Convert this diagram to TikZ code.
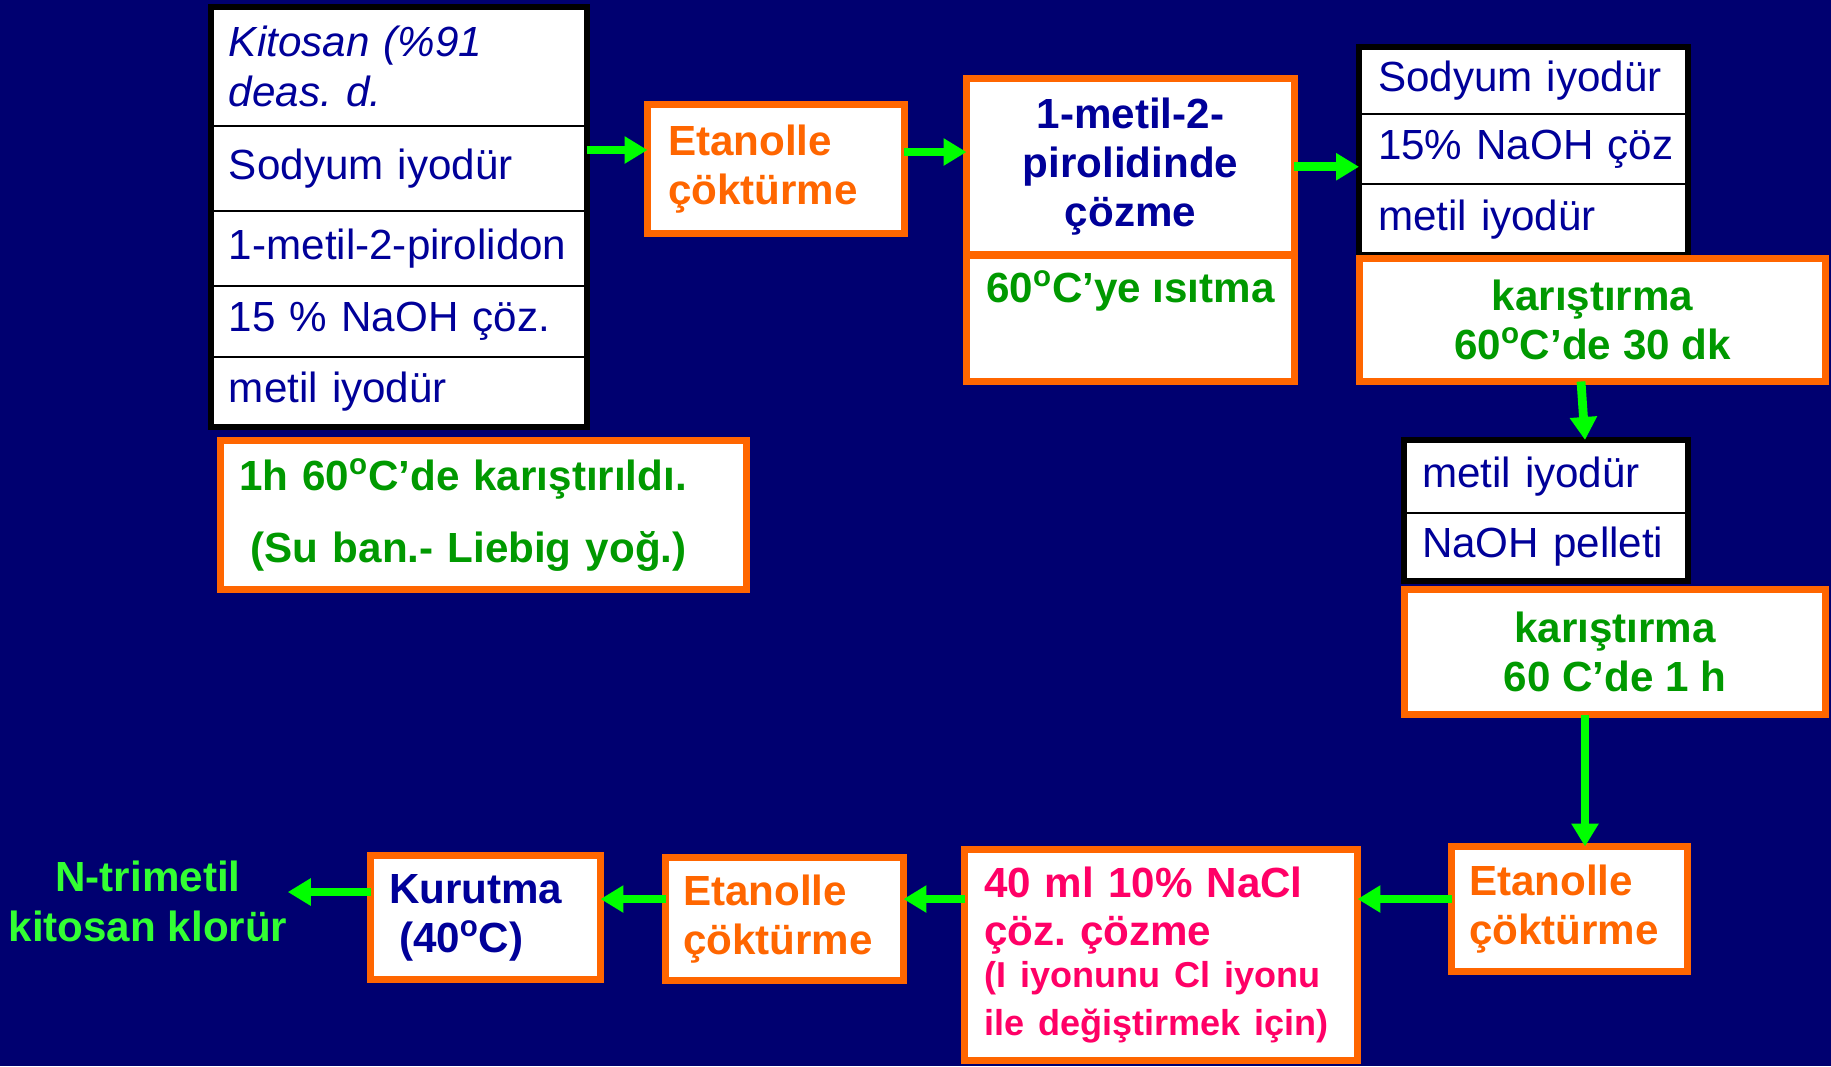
\documentclass[tikz,border=0pt]{standalone}
\usepackage{fontspec}
\setmainfont{Liberation Sans}
\usepackage{xcolor}
\usepackage{tikz}
\usetikzlibrary{arrows.meta, positioning, fit, calc}
\definecolor{bgnavy}{RGB}{0,0,112}
\definecolor{inknavy}{RGB}{0,0,153}
\definecolor{boxorange}{RGB}{255,102,0}
\definecolor{leafgreen}{RGB}{0,153,0}
\definecolor{flowgreen}{RGB}{0,255,0}
\definecolor{limegreen}{RGB}{51,255,51}
\definecolor{rosered}{RGB}{255,0,102}
\frenchspacing

\begin{document}
\begin{tikzpicture}[x=0.02cm, y=-0.02cm, node distance=0pt, >=Stealth]
  \tikzstyle{cell} = [rectangle, draw=black, line width=1.5pt, fill=white, outer sep=0pt, inner ysep=0pt, align=left, text=inknavy, font=\fontsize{24}{28}\selectfont]
  \tikzstyle{frame} = [rectangle, draw=black, line width=3.4pt, inner sep=0pt, outer sep=0pt]
  \tikzstyle{pane} = [rectangle, draw=boxorange, line width=4pt, fill=white, outer sep=0pt, inner ysep=0pt, font=\bfseries\fontsize{24}{28}\selectfont]
  \tikzstyle{flow} = [draw=flowgreen, line width=5pt, -{Triangle[length=0.46cm, width=0.52cm]}]

  \useasboundingbox (0,0) rectangle (1831,1066);
  \fill[bgnavy] (0,0) rectangle (1831,1066);

  % reagents, first step
  \node [cell, anchor=north west, text width=6.8cm, inner xsep=0.36cm, minimum height=2.38cm] (k1) at (211,7) {\itshape Kitosan (\%91\\deas. d.};
  \node [cell, below=of k1, text width=6.8cm, inner xsep=0.36cm, minimum height=1.70cm] (k2) {Sodyum iyodür};
  \node [cell, below=of k2, text width=6.8cm, inner xsep=0.36cm, minimum height=1.50cm] (k3) {\mbox{1-metil-2-pirolidon}};
  \node [cell, below=of k3, text width=6.8cm, inner xsep=0.36cm, minimum height=1.42cm] (k4) {15 \% NaOH çöz.};
  \node [cell, below=of k4, text width=6.8cm, inner xsep=0.36cm, minimum height=1.40cm] (k5) {metil iyodür};
  \node [frame, fit=(k1)(k5)] (stackL) {};
  \node [pane, text=leafgreen, align=left, text width=9.78cm, inner xsep=0.37cm, minimum height=2.98cm] (stir) at (483.5,515) {1h 60\textsuperscript{o}C’de karıştırıldı.\\[13pt]\hspace*{6.7pt}(Su ban.- Liebig yoğ.)};

  \node [pane, text=boxorange, align=left, text width=4.32cm, inner xsep=0.41cm, minimum height=2.58cm] (eta1) at (776,169) {Etanolle\\çöktürme};
  \node [pane, text=inknavy, align=center, minimum width=6.56cm, minimum height=3.53cm] (pir) at (1130.5,166.75) {1-metil-2-\\pirolidinde\\çözme};
  \node [pane, text=leafgreen, align=center, below=of pir, minimum width=6.56cm, minimum height=2.53cm] (heat) {60\textsuperscript{o}C’ye ısıtma\\ \strut};

  % reagents, second step
  \node [cell, anchor=north west, text width=5.82cm, inner xsep=0.38cm, minimum height=1.34cm] (r1) at (1359,47) {Sodyum iyodür};
  \node [cell, below=of r1, text width=5.82cm, inner xsep=0.38cm, minimum height=1.40cm] (r2) {\mbox{15\% NaOH çöz}};
  \node [cell, below=of r2, text width=5.82cm, inner xsep=0.38cm, minimum height=1.42cm] (r3) {metil iyodür};
  \node [frame, fit=(r1)(r3)] (stackR) {};
  \node [pane, text=leafgreen, align=center, minimum width=9.32cm, minimum height=2.46cm] (kar1) at (1592.5,320) {karıştırma\\60\textsuperscript{o}C’de 30 dk};

  % reagents, third step
  \node [cell, anchor=north west, text width=4.96cm, inner xsep=0.36cm, minimum height=1.46cm] (m1) at (1404,440) {metil iyodür};
  \node [cell, below=of m1, text width=4.96cm, inner xsep=0.36cm, minimum height=1.36cm] (m2) {NaOH pelleti};
  \node [frame, fit=(m1)(m2)] (stackM) {};
  \node [pane, text=leafgreen, align=center, minimum width=8.42cm, minimum height=2.5cm] (kar2) at (1615,652) {karıştırma\\60 C’de 1 h};

  % work-up, right to left
  \node [pane, text=boxorange, align=left, text width=4.02cm, inner xsep=0.35cm, minimum height=2.5cm] (eta3) at (1569.5,909) {Etanolle\\çöktürme};
  \node [pane, text=rosered, align=left, text width=7.08cm, inner xsep=0.39cm, minimum height=4.22cm, font=\bfseries\fontsize{24}{27.5}\selectfont] (nacl) at (1161,955) {40 ml 10\% NaCl\\çöz. çözme\\{\fontsize{20.5}{24}\selectfont (I iyonunu Cl iyonu\\ile değiştirmek için)}};
  \node [pane, text=boxorange, align=left, text width=4.06cm, inner xsep=0.35cm, minimum height=2.46cm] (eta4) at (784.5,919) {Etanolle\\çöktürme};
  \node [pane, text=inknavy, align=left, text width=3.86cm, inner xsep=0.37cm, minimum height=2.48cm] (kur) at (485.5,917.5) {Kurutma\\\hspace*{5.7pt}(40\textsuperscript{o}C)};
  \node [text=limegreen, align=center, inner sep=0pt, font=\bfseries\fontsize{24}{28.5}\selectfont] (prod) at (148,901) {N-trimetil\\kitosan klorür};

  \draw[flow] ([yshift=0.38cm]eta1.west -| stackL.east) -- ([yshift=0.38cm]eta1.west);
  \draw[flow] ([yshift=0.34cm]eta1.east) -- ([yshift=0.34cm]eta1.east -| pir.west);
  \draw[flow] (pir.east) -- (pir.east -| r2.west);
  \draw[flow] ([xshift=-0.23cm]kar1.south) -- ([xshift=-0.15cm]kar1.south |- stackM.north);
  \draw[flow] ([xshift=-0.6cm]kar2.south) -- ([xshift=-0.6cm]kar2.south |- eta3.north);
  \draw[flow] ([yshift=0.2cm]eta3.west) -- ([yshift=0.2cm]eta3.west -| nacl.east);
  \draw[flow] ([yshift=1.12cm]nacl.west) -- ([yshift=1.12cm]nacl.west -| eta4.east);
  \draw[flow] ([yshift=0.4cm]eta4.west) -- ([yshift=0.4cm]eta4.west -| kur.east);
  \draw[flow] ([yshift=0.51cm]kur.west) -- ([yshift=0.51cm]kur.west -| prod.east);
\end{tikzpicture}
\end{document}
